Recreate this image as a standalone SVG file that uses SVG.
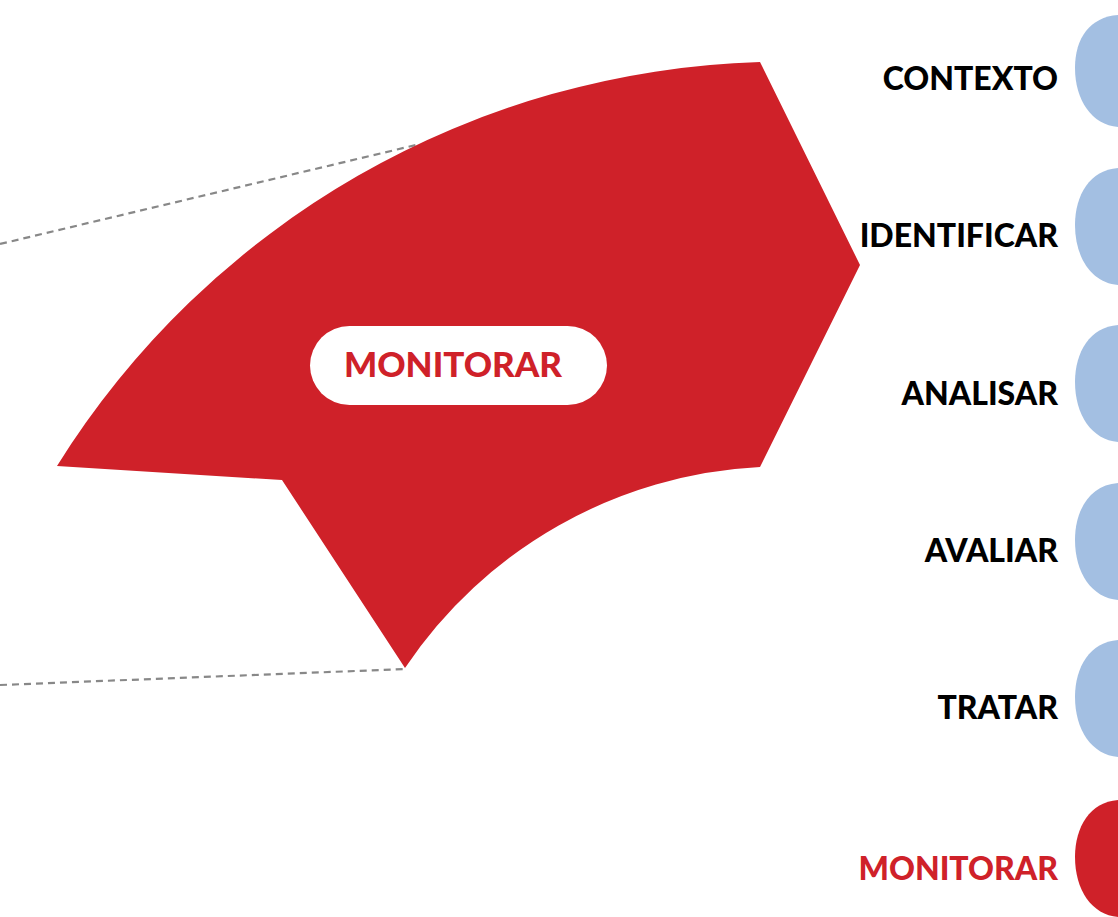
<svg xmlns="http://www.w3.org/2000/svg" width="1118" height="917" viewBox="0 0 1118 917">
<style>
.lbl{font-family:Lato,"Liberation Sans",sans-serif;font-weight:900;font-size:32px;text-anchor:end;fill:#000}
.red{fill:#CF2129}
.blue{fill:#A3BFE2}
.dash{stroke:#888;stroke-width:2.2;stroke-dasharray:7 5;fill:none}
</style>
<rect width="1118" height="917" fill="#fff"/>
<g id="connectors">
<line class="dash" x1="0" y1="244" x2="416" y2="145"/>
<line class="dash" x1="0" y1="685" x2="406" y2="669"/>
</g>
<g id="sector">
<path class="red" d="M57,466 A859,859 0 0 1 760,62 L860,265 L760,467 A455,455 0 0 0 405,668 L282,480 Z"/>
<rect x="310" y="326" width="297" height="79" rx="39.5" fill="#fff"/>
<text x="453" y="377" style="font-family:Lato,'Liberation Sans',sans-serif;font-weight:900;font-size:35px;text-anchor:middle;fill:#CF2129">MONITORAR</text>
</g>
<g id="contexto"><path class="blue" d="M1118,15 C1090,17 1075,38 1075,68 C1075,100 1092,125 1118,127 Z"/><text class="lbl" x="1058" y="90">CONTEXTO</text></g>
<g id="identificar"><path class="blue" d="M1118,168 C1090,170 1075,195 1075,225 C1075,258 1092,283 1118,285 Z"/><text class="lbl" x="1058" y="247">IDENTIFICAR</text></g>
<g id="analisar"><path class="blue" d="M1118,325 C1090,327 1075,352 1075,382 C1075,415 1092,440 1118,442 Z"/><text class="lbl" x="1058" y="405">ANALISAR</text></g>
<g id="avaliar"><path class="blue" d="M1118,483 C1090,485 1075,510 1075,540 C1075,573 1092,598 1118,600 Z"/><text class="lbl" x="1058" y="562">AVALIAR</text></g>
<g id="tratar"><path class="blue" d="M1118,640 C1090,642 1075,667 1075,697 C1075,730 1092,755 1118,757 Z"/><text class="lbl" x="1058" y="719">TRATAR</text></g>
<g id="monitorar"><path class="red" d="M1118,800 C1090,802 1075,827 1075,857 C1075,890 1092,915 1118,917 Z"/><text class="lbl" x="1058" y="880" style="fill:#CF2129">MONITORAR</text></g>
</svg>
